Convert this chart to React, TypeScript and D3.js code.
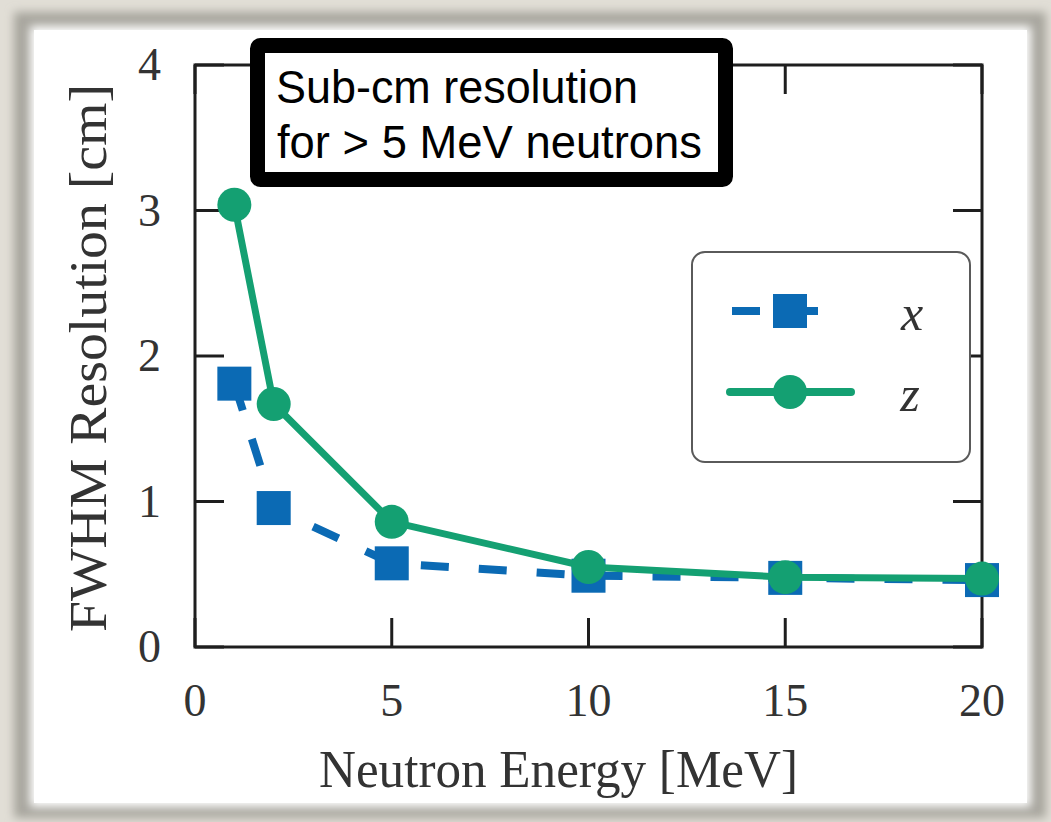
import React from "react";
import * as d3 from "d3";

const energies = [1, 2, 5, 10, 15, 20];
const xResolution = [1.81, 0.955, 0.575, 0.49, 0.475, 0.46];
const zResolution = [3.04, 1.67, 0.86, 0.55, 0.48, 0.47];
const xTicks = [0, 5, 10, 15, 20];
const yTicks = [0, 1, 2, 3, 4];
const xLabel = "Neutron Energy [MeV]";
const yLabel = "FWHM Resolution [cm]";
const noteLines = ["Sub-cm resolution", "for > 5 MeV neutrons"];
const legendNames = ["x", "z"];

const W = 1051;
const H = 822;
const L = 195, R = 982, T = 65, B = 647;
const BLUE = "#0b6ab4";
const GREEN = "#14a072";
const AX = "#1e1e1e";
const TXT = "#333333";
const SERIF = "'Liberation Serif', 'Times New Roman', serif";

export default function App() {
  const x = d3.scaleLinear().domain([0, 20]).range([L, R]);
  const y = d3.scaleLinear().domain([0, 4]).range([B, T]);
  const lineX = d3.line<number>().x((_, i) => x(energies[i])).y((d) => y(d));
  const tickLen = 29;
  const sq = 34;
  return (
    <svg width={W} height={H} style={{ position: "absolute", left: 0, top: 0 }}>
      <defs>
        <filter id="blur" x="-10%" y="-10%" width="120%" height="120%">
          <feGaussianBlur stdDeviation="5" />
        </filter>
      </defs>
      <rect x={0} y={0} width={W} height={H} fill="#e1ded6" />
      <rect x={14} y={12} width={1032} height={806} fill="#a8a69e" filter="url(#blur)" />
      <rect x={30} y={26} width={1001} height={781} fill="#ffffff" filter="url(#blur)" />
      <rect x={34} y={30} width={993} height={773} fill="#ffffff" />

      {/* axes frame */}
      <rect x={L} y={T} width={R - L} height={B - T} fill="none" stroke={AX} strokeWidth={3} />
      {xTicks.map((t) => (
        <g key={"xt" + t}>
          <line x1={x(t)} x2={x(t)} y1={B} y2={B - tickLen} stroke={AX} strokeWidth={3} />
          <line x1={x(t)} x2={x(t)} y1={T} y2={T + tickLen} stroke={AX} strokeWidth={3} />
          <text x={x(t)} y={716} textAnchor="middle" fontFamily={SERIF} fontSize={46} fill={TXT}>
            {t}
          </text>
        </g>
      ))}
      {yTicks.map((t) => (
        <g key={"yt" + t}>
          <line x1={L} x2={L + tickLen} y1={y(t)} y2={y(t)} stroke={AX} strokeWidth={3} />
          <line x1={R} x2={R - tickLen} y1={y(t)} y2={y(t)} stroke={AX} strokeWidth={3} />
          <text x={161} y={y(t) + 15} textAnchor="end" fontFamily={SERIF} fontSize={46} fill={TXT}>
            {t}
          </text>
        </g>
      ))}
      <text x={(L + R) / 2 - 30} y={787} textAnchor="middle" fontFamily={SERIF} fontSize={52} fill={TXT}
        textLength={479} lengthAdjust="spacingAndGlyphs">
        {xLabel}
      </text>
      <text transform={`translate(106, ${358}) rotate(-90)`} textAnchor="middle" fontFamily={SERIF} fontSize={52}
        fill={TXT} textLength={548} lengthAdjust="spacingAndGlyphs">
        {yLabel}
      </text>

      {/* x series */}
      <path d={lineX(xResolution) || ""} fill="none" stroke={BLUE} strokeWidth={8} strokeDasharray="28 30" />
      {xResolution.map((v, i) => (
        <rect key={"xs" + i} x={x(energies[i]) - sq / 2} y={y(v) - sq / 2} width={sq} height={sq} fill={BLUE} />
      ))}
      {/* z series */}
      <path d={lineX(zResolution) || ""} fill="none" stroke={GREEN} strokeWidth={7} strokeLinejoin="round" />
      {zResolution.map((v, i) => (
        <circle key={"zs" + i} cx={x(energies[i])} cy={y(v)} r={17} fill={GREEN} />
      ))}

      {/* legend */}
      <rect x={692} y={252} width={278} height={210} rx={13} fill="#ffffff" stroke="#5a5a5a" strokeWidth={2} />
      <line x1={732} x2={820} y1={311} y2={311} stroke={BLUE} strokeWidth={8} strokeDasharray="28 30" />
      <rect x={790 - sq / 2} y={311 - sq / 2} width={sq} height={sq} fill={BLUE} />
      <line x1={730} x2={851} y1={392} y2={392} stroke={GREEN} strokeWidth={8} strokeLinecap="round" />
      <circle cx={790} cy={392} r={17} fill={GREEN} />
      <text x={912} y={330} textAnchor="middle" fontFamily={SERIF} fontStyle="italic" fontSize={50} fill={TXT}>
        {legendNames[0]}
      </text>
      <text x={910} y={411} textAnchor="middle" fontFamily={SERIF} fontStyle="italic" fontSize={50} fill={TXT}>
        {legendNames[1]}
      </text>

      {/* annotation */}
      <rect x={257.5} y={45.5} width={468} height={134} rx={3} fill="#ffffff" stroke="#000000" strokeWidth={15} />
      <text x={276} y={103} fontFamily="'Liberation Sans', Arial, sans-serif" fontSize={46} fill="#000"
        textLength={362} lengthAdjust="spacingAndGlyphs">
        {noteLines[0]}
      </text>
      <text x={277} y={158} fontFamily="'Liberation Sans', Arial, sans-serif" fontSize={46} fill="#000"
        textLength={425} lengthAdjust="spacingAndGlyphs">
        {noteLines[1]}
      </text>
    </svg>
  );
}
